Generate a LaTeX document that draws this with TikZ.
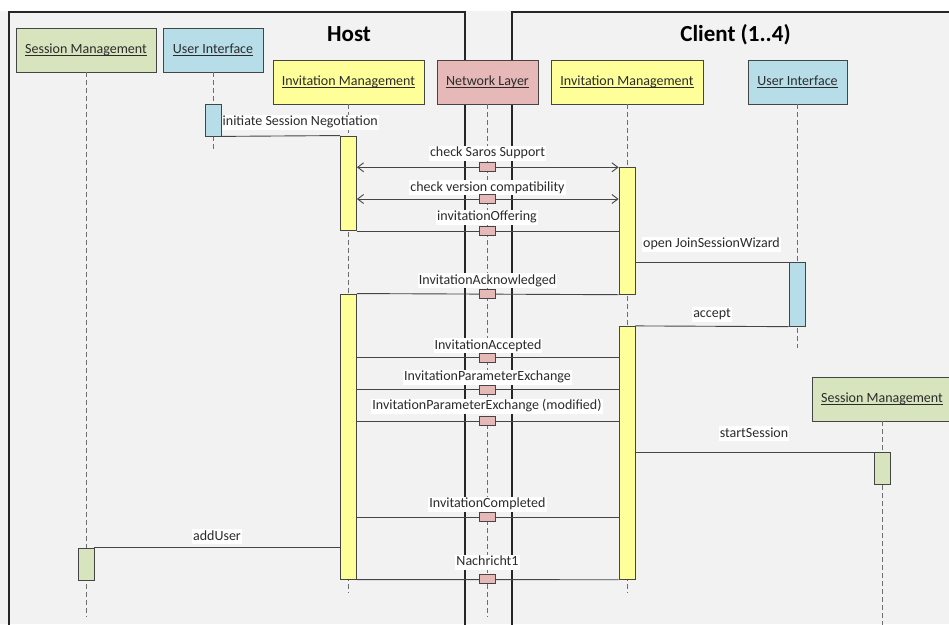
\documentclass[tikz,border=0pt]{standalone}
\usepackage{fontspec}
\setmainfont{Carlito}
\usetikzlibrary{arrows.meta}
\definecolor{bg}{HTML}{F2F2F2}
\definecolor{smfill}{HTML}{D7E4BD}
\definecolor{uifill}{HTML}{B7DDE8}
\definecolor{imfill}{HTML}{FFFF99}
\definecolor{nlfill}{HTML}{E6B9B8}
\definecolor{edge}{HTML}{454545}
\definecolor{txt}{HTML}{2B2B2B}
\definecolor{dashgray}{HTML}{6E6E6E}
% underline drawn just below the baseline, crossing descenders
\newcommand\headul[1]{\setbox0\hbox{#1}\rlap{\rule[-2.2pt]{\wd0}{0.6pt}}\box0}
\begin{document}
\begin{tikzpicture}[x=1pt,y=-1pt,
  head/.style={draw=edge, line width=0.8pt, minimum height=44pt, inner sep=0pt,
    font=\fontsize{14}{16}\selectfont, text=txt},
  act/.style={draw=edge, line width=0.8pt, minimum width=16pt, inner sep=0pt},
  lifeline/.style={draw=dashgray, dash pattern=on 5pt off 3pt, line width=0.9pt},
  msg/.style={draw=edge, line width=0.9pt},
  twoway/.style={msg, {Straight Barb[length=6pt,width=9pt]}-{Straight Barb[length=6pt,width=9pt]}},
  lbl/.style={fill=white, inner sep=1pt, text height=10pt, text depth=3pt,
    font=\fontsize{14}{16}\selectfont, text=txt},
  nbox/.style={draw=edge, fill=nlfill, minimum width=16pt, minimum height=9pt,
    inner sep=0pt, line width=0.8pt},
  framebox/.style={draw=black!85, line width=1.4pt},
  title/.style={font=\fontsize{23}{26}\selectfont\bfseries, text=black, anchor=base}
]
% canvas
\fill[white] (0,0) rectangle (949,624);
\fill[bg] (0,11) rectangle (949,624);
\useasboundingbox (0,0) rectangle (949,624);

% host and client frames
\draw[framebox] (9,626) -- (9,12) -- (465,12) -- (465,626);
\draw[framebox] (512,626) -- (512,12) -- (951,12);
\node[title] (host) at (349,41) {Host};
\node[title] (client) at (735.5,41) {Client (1..4)};

% lifeline heads
\node[head, fill=smfill, minimum width=140pt] (smL) at (86,50) {\headul{Session Management}};
\node[head, fill=uifill, minimum width=100pt] (uiL) at (213,50) {\headul{User Interface}};
\node[head, fill=imfill, minimum width=151pt] (imH) at (348.5,82) {\headul{Invitation Management}};
\node[head, fill=nlfill, minimum width=101pt] (nl) at (487.5,82) {\headul{Network Layer}};
\node[head, fill=imfill, minimum width=152pt] (imC) at (627,82) {\headul{Invitation Management}};
\node[head, fill=uifill, minimum width=99pt] (uiC) at (797.5,82) {\headul{User Interface}};

% lifeline ends
\coordinate (smLe) at (86,617);
\coordinate (uiLe) at (213,150);
\coordinate (imHe) at (348.5,593);
\coordinate (nle) at (487,617);
\coordinate (imCe) at (627,593);
\coordinate (uiCe) at (797,348);
\coordinate (smCe) at (882,626);

\draw[lifeline] (smL.south) -- (smLe);
\draw[lifeline] (uiL.south) -- (uiLe);
\draw[lifeline] (imH.south) -- (imHe);
\draw[lifeline] (nl.south -| nle) -- (nle);
\draw[lifeline] (imC.south) -- (imCe);
\draw[lifeline] (uiC.south -| uiCe) -- (uiCe);

% client session management (head appears later)
\node[head, fill=smfill, minimum width=140pt] (smC) at (882,399) {\headul{Session Management}};
\draw[lifeline] (smC.south) -- (smCe);

% activations
\node[act, fill=uifill, minimum height=32pt] (uiLa) at (213,120) {};
\node[act, fill=imfill, minimum height=94.7pt] (imHa1) at (348.5,183.3) {};
\node[act, fill=imfill, minimum height=127pt] (imCa1) at (627,230.8) {};
\node[act, fill=uifill, minimum height=63.7pt] (uiCa) at (797,294.4) {};
\node[act, fill=imfill, minimum height=285.3pt] (imHa2) at (348.5,436.6) {};
\node[act, fill=imfill, minimum height=253pt] (imCa2) at (627,452.8) {};
\node[act, fill=smfill, minimum height=32pt] (smCa) at (882,468.7) {};
\node[act, fill=smfill, minimum height=32pt] (smLa) at (86,564) {};

% network relay points
\coordinate (p1) at (487,167.3);
\coordinate (p2) at (487,199);
\coordinate (p3) at (487,230.7);
\coordinate (p4) at (487,294.3);
\coordinate (p5) at (487,357.7);
\coordinate (p6) at (487,389.5);
\coordinate (p7) at (487,421);
\coordinate (p8) at (487,517);
\coordinate (p9) at (487,579.3);

% messages
\draw[msg] (uiLa.south east) -- (imHa1.north west);
\draw[twoway] (imHa1.east |- p1) -- (imCa1.west |- p1);
\draw[twoway] (imHa1.east |- p2) -- (imCa1.west |- p2);
\draw[msg] (imHa1.south east) -- (imCa1.west |- imHa1.south);
\draw[msg] (imCa1.east |- uiCa.north) -- (uiCa.north west);
\draw[msg] (imHa2.north east) -- (imCa1.south west);
\draw[msg] (imCa2.north east) -- (uiCa.south west);
\draw[msg] (imHa2.east |- p5) -- (imCa2.west |- p5);
\draw[msg] (imHa2.east |- p6) -- (imCa2.west |- p6);
\draw[msg] (imHa2.east |- p7) -- (imCa2.west |- p7);
\draw[msg] (imCa2.east |- smCa.north) -- (smCa.north west);
\draw[msg] (imHa2.east |- p8) -- (imCa2.west |- p8);
\draw[msg] (smLa.north east) -- (imHa2.west |- smLa.north);
\draw[msg] (imHa2.south east) -- (imCa2.south west);

% message labels
\node[lbl, anchor=west] (t0) at (221.5,122) {initiate Session Negotiation};
\node[lbl] (t1) at (487.5,153) {check Saros Support};
\node[lbl] (t2) at (487.5,187.5) {check version compatibility};
\node[lbl] (t3) at (487,217) {invitationOffering};
\node[lbl] (t4) at (711.5,244) {open JoinSessionWizard};
\node[lbl] (t5) at (487.5,280.5) {InvitationAcknowledged};
\node[lbl] (t6) at (712,314) {accept};
\node[lbl] (t7) at (488,345.5) {InvitationAccepted};
\node[lbl] (t8) at (487.5,377) {InvitationParameterExchange};
\node[lbl] (t9) at (487,406) {InvitationParameterExchange (modified)};
\node[lbl] (t10) at (754,433.5) {startSession};
\node[lbl] (t11) at (487.5,504) {InvitationCompleted};
\node[lbl] (t12) at (217,536.5) {addUser};
\node[lbl] (t13) at (487.5,562) {Nachricht1};

% network layer relay boxes
\foreach \p in {p1,p2,p3,p4,p5,p6,p7,p8,p9}
  \node[nbox] (box-\p) at (\p) {};
\end{tikzpicture}
\end{document}
